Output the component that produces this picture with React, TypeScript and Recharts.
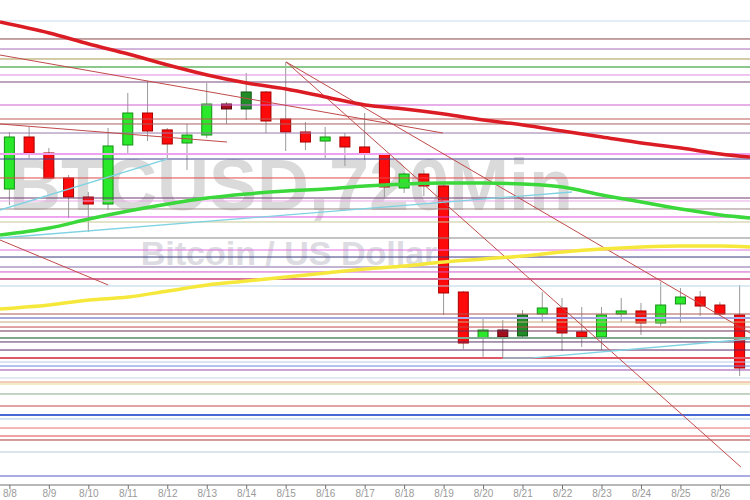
import React from 'react';
import { ComposedChart, Bar, Line, XAxis, YAxis, ReferenceLine } from 'recharts';

// ---- Axis / tick labels ----
const tickDays = [0, 1, 2, 3, 4, 5, 6, 7, 8, 9, 10, 11, 12, 13, 14, 15, 16, 17, 18];
const tickDates = ['8/8', '8/9', '8/10', '8/11', '8/12', '8/13', '8/14', '8/15', '8/16', '8/17', '8/18', '8/19', '8/20', '8/21', '8/22', '8/23', '8/24', '8/25', '8/26'];

// ---- 720-minute candles (time in days from 8/8 00:00) ----
const candleTimes = [0, 0.5, 1, 1.5, 2, 2.5, 3, 3.5, 4, 4.5, 5, 5.5, 6, 6.5, 7, 7.5, 8, 8.5, 9, 9.5, 10, 10.5, 11, 11.5, 12, 12.5, 13, 13.5, 14, 14.5, 15, 15.5, 16, 16.5, 17, 17.5, 18, 18.5];
const opens = [23174, 24013, 23755, 23352, 23045, 22932, 23884, 24400, 24127, 23916, 24045, 24545, 24465, 24739, 24303, 24094, 23948, 24013, 23852, 23739, 23190, 23416, 23223, 21513, 20771, 20900, 20803, 21158, 21255, 20868, 20787, 21158, 21207, 21013, 21320, 21432, 21303, 21142];
const highs = [24094, 24174, 23836, 23400, 23126, 24158, 24723, 24916, 24158, 24223, 24884, 24577, 25045, 24755, 25223, 24255, 24174, 24077, 24400, 23755, 23440, 23481, 23271, 21530, 21094, 21061, 21223, 21513, 21416, 21271, 21271, 21416, 21336, 21674, 21577, 21529, 21352, 21626];
const lows = [22916, 23674, 23340, 22707, 22481, 22836, 23723, 23948, 23674, 23481, 23997, 24223, 24287, 24077, 23787, 23803, 23674, 23545, 23642, 23045, 23110, 23061, 21142, 20594, 20465, 20432, 20755, 21029, 20561, 20626, 20577, 21029, 20819, 20965, 21013, 21126, 21126, 20158];
const closes = [24013, 23755, 23352, 23045, 22932, 23868, 24400, 24110, 23900, 24045, 24545, 24465, 24739, 24271, 24094, 23932, 24013, 23852, 23739, 23207, 23416, 23223, 21497, 20690, 20900, 20787, 21142, 21255, 20852, 20787, 21142, 21207, 21013, 21303, 21432, 21287, 21158, 20287];
const darkCandles = [11, 12, 25, 26];

// ---- Moving averages ----
const maTimes = [-0.25, 1, 2, 3, 4, 5, 6, 7, 8, 9, 10, 11, 12, 13, 14, 15, 16, 17, 18, 18.75];
const maRed = [25868, 25690, 25513, 25352, 25174, 25013, 24884, 24787, 24658, 24529, 24465, 24384, 24287, 24207, 24110, 24013, 23916, 23836, 23739, 23690];
const maGreen = [22432, 22545, 22690, 22819, 22932, 23029, 23094, 23142, 23174, 23223, 23255, 23271, 23271, 23255, 23207, 23077, 22965, 22852, 22755, 22707];
const maYellow = [21239, 21303, 21384, 21432, 21529, 21626, 21690, 21755, 21819, 21884, 21932, 21997, 22045, 22094, 22158, 22207, 22239, 22255, 22255, 22239];

// ---- Horizontal levels ----
const levelPrices = [25884, 25594, 25432, 25271, 25142, 25013, 24900, 24529, 24303, 24223, 24077, 23739, 23658, 23352, 23029, 22981, 22852, 22723, 22642, 22384, 22190, 22077, 21916, 21836, 21723, 21610, 21158, 21094, 21029, 20948, 20884, 20771, 20707, 20577, 20448, 20384, 20319, 20255, 20126, 20061, 20029, 19868, 19674, 19529, 19465, 19319, 19190, 19126, 18932, 18545];
const levelColors = ['#c8dcf0', '#8b4545', '#a868b8', '#a89850', '#8cc88c', '#e088e0', '#7a4a7a', '#d060d0', '#c05858', '#a86060', '#9878a8', '#f0a0f0', '#404090', '#e04848', '#703870', '#e8a8e8', '#a08888', '#e050e0', '#c8c898', '#888888', '#e070e0', '#383880', '#8868a8', '#d058c8', '#d8709c', '#b8d4e4', '#a85858', '#a8a8e0', '#c8a878', '#c04848', '#683058', '#80a890', '#583068', '#582868', '#e05868', '#b8c8f0', '#6888e0', '#9848a8', '#c8d4e4', '#e89878', '#e8d890', '#88a888', '#c04848', '#4868d8', '#a8c8e8', '#e87070', '#e04848', '#a83838', '#b8ccd8', '#5858c8'];
const thickLevels = [4, 11, 24, 27, 31, 34, 43];

// ---- Trend lines: [t1, p1, t2, p2] ----
const redTrends = [
  [-0.25, 25335, 10.97, 24077],
  [-0.25, 24223, 5.5, 23932],
  [-0.25, 22352, 2.49, 21626],
  [7, 25223, 18.75, 20852],
  [7, 25223, 18.52, 18690],
];
const cyanTrends = [
  [-0.25, 22835, 3.98, 23658],
  [-0.25, 22384, 14.24, 23126],
  [12.49, 20448, 13.18, 20448],
  [13.18, 20448, 18.75, 20755],
];

const candleRows = candleTimes.map((t, i) => ({
  t,
  range: [lows[i], highs[i]],
  open: opens[i],
  high: highs[i],
  low: lows[i],
  close: closes[i],
  idx: i,
}));

const maRedData = maTimes.map((t, i) => ({ t, v: maRed[i] }));
const maGreenData = maTimes.map((t, i) => ({ t, v: maGreen[i] }));
const maYellowData = maTimes.map((t, i) => ({ t, v: maYellow[i] }));

const Candle = (props: any) => {
  const { x, y, width, height, payload } = props;
  if (!payload) return null;
  const { open, close, high, low, idx } = payload;
  const top = Math.min(y, y + height);
  const h = Math.abs(height);
  const ratio = h / Math.max(1e-6, high - low);
  const yOf = (v: number) => top + (high - v) * ratio;
  const cx = x + width / 2;
  const bodyTop = yOf(Math.max(open, close));
  const bodyBot = yOf(Math.min(open, close));
  const up = close >= open;
  const dark = darkCandles.includes(idx);
  let fill = up ? '#2ae82a' : '#ff0a0a';
  let stroke = up ? '#159215' : '#a80000';
  if (dark) {
    fill = up ? '#1f8c28' : '#a3101c';
    stroke = up ? '#0c5a14' : '#5a0010';
  }
  const bw = 10;
  return (
    <g>
      <line x1={cx} x2={cx} y1={top} y2={top + h} stroke="#9a9a9a" strokeWidth={1} />
      <rect x={cx - bw / 2} y={bodyTop} width={bw} height={Math.max(1.5, bodyBot - bodyTop)} fill={fill} stroke={stroke} strokeWidth={1} />
    </g>
  );
};

export default function App() {
  return (
    <div style={{ position: 'absolute', left: 0, top: 0, width: 750, height: 500, background: '#ffffff' }}>
      <svg width={750} height={500} style={{ position: 'absolute', left: 0, top: 0 }}>
        <text x={291} y={210} textAnchor="middle" fontFamily="'Liberation Sans', Arial, sans-serif" fontWeight="bold" fontSize={72} fill="#dadada">BTCUSD,720Min</text>
        <text x={289} y={265} textAnchor="middle" fontFamily="'Liberation Sans', Arial, sans-serif" fontWeight="bold" fontSize={34} fill="#dcdce2">Bitcoin / US Dollar</text>
      </svg>
      <div style={{ position: 'absolute', left: 0, top: 0 }}>
        <ComposedChart width={750} height={500} data={candleRows} margin={{ top: 20, right: 0, bottom: 0, left: 0 }}>
          <XAxis
            dataKey="t"
            type="number"
            domain={[-0.25, 18.75]}
            allowDataOverflow
            ticks={tickDays}
            interval={0}
            height={15}
            tickSize={4}
            tickMargin={1}
            tickFormatter={(v: number) => tickDates[Math.round(v)] ?? ''}
            tick={{ fontSize: 10, fill: '#9a9a9a', fontFamily: "'Liberation Sans', Arial, sans-serif" }}
            axisLine={{ stroke: '#707070' }}
            tickLine={{ stroke: '#707070' }}
          />
          <YAxis type="number" domain={[18400, 25900]} allowDataOverflow hide />
          {levelPrices.map((p, i) => (
            <ReferenceLine key={'lv' + i} y={p} stroke={levelColors[i]} strokeWidth={thickLevels.includes(i) ? 2 : 1} ifOverflow="hidden" />
          ))}
          {redTrends.map((s, i) => (
            <ReferenceLine key={'rt' + i} segment={[{ x: s[0], y: s[1] }, { x: s[2], y: s[3] }]} stroke="#c04a4a" strokeWidth={1} ifOverflow="hidden" />
          ))}
          {cyanTrends.map((s, i) => (
            <ReferenceLine key={'ct' + i} segment={[{ x: s[0], y: s[1] }, { x: s[2], y: s[3] }]} stroke="#7fd2e2" strokeWidth={1.3} ifOverflow="hidden" />
          ))}
          <Line data={maYellowData} dataKey="v" type="monotone" stroke="#f6e83a" strokeWidth={3.5} dot={false} isAnimationActive={false} />
          <Line data={maGreenData} dataKey="v" type="monotone" stroke="#3ad83a" strokeWidth={3.5} dot={false} isAnimationActive={false} />
          <Line data={maRedData} dataKey="v" type="monotone" stroke="#dc1c24" strokeWidth={3.5} dot={false} isAnimationActive={false} />
          <Bar dataKey="range" barSize={10} shape={<Candle />} isAnimationActive={false} />
        </ComposedChart>
      </div>
    </div>
  );
}
